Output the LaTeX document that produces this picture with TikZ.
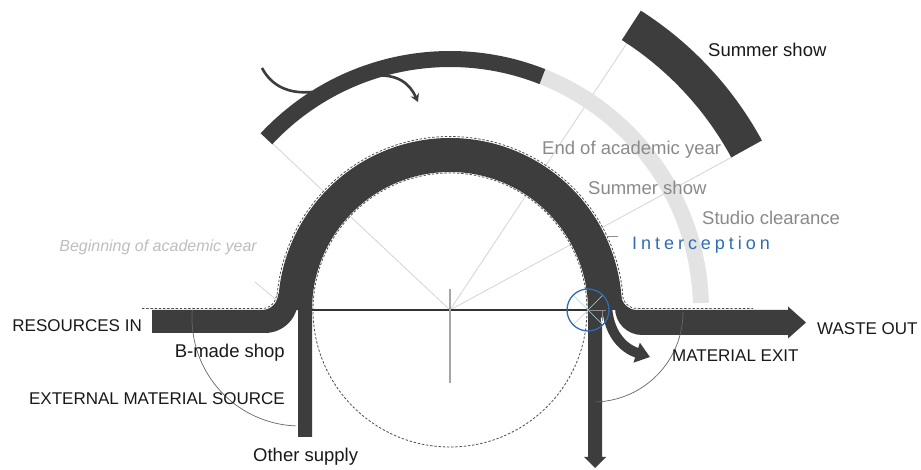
\documentclass[tikz,border=0pt]{standalone}
\usepackage{fontspec}
\setmainfont{Liberation Sans}
\usetikzlibrary{calc,arrows.meta}
\definecolor{band}{HTML}{3D3D3D}
\definecolor{ringlight}{HTML}{E3E3E3}
\definecolor{radial}{HTML}{D4D4D4}
\definecolor{txtgray}{HTML}{8A8A8A}
\definecolor{txtlight}{HTML}{BEBEBE}
\definecolor{iblue}{HTML}{2F6DB5}
\definecolor{xcyan}{HTML}{A8D8E6}
\begin{document}
\begin{tikzpicture}[x=1pt,y=1pt,
  radialline/.style={draw=radial, line width=0.8pt},
  dashline/.style={draw=black!70, line width=0.8pt, dash pattern=on 2.4pt off 1.8pt},
  thinarc/.style={draw=black!60, line width=0.7pt},
  caplbl/.style={font=\fontsize{17}{20}\selectfont, text=black!90, inner sep=0pt},
  lowlbl/.style={font=\fontsize{18.5}{22}\selectfont, inner sep=0pt},
  flowline/.style={draw=band, line width=2.6pt},
]
\useasboundingbox (0,0) rectangle (921,470);
\fill[white] (0,0) rectangle (921,470);
\coordinate (C) at (450,160);

% radial guide lines
\draw[radialline] (C) -- (272,327);
\draw[radialline] (C) -- (627,427);
\draw[radialline] (C) -- (734,314);
\draw[radialline] (255,188) -- (285,163);

% outer rings
\draw[ringlight, line width=16pt] ($(C)+(68.4:251)$) arc[start angle=68.4, end angle=1.6, radius=251];
\draw[band, line width=16pt] ($(C)+(137:251)$) arc[start angle=137, end angle=68.4, radius=251];
\draw[band, line width=35pt] ($(C)+(57.5:337.5)$) arc[start angle=57.5, end angle=28.5, radius=337.5];

% dashed outlines
\draw[dashline] (C) circle[radius=137];
\draw[dashline] (142,161.5) -- (262,161.5) arc[start angle=270,end angle=360,radius=14.5]
  -- ($(C)+(174.7:173.5)$) arc[start angle=174.7,end angle=5.3,radius=173.5]
  -- (622.5,176) arc[start angle=180,end angle=270,radius=14.5] -- (753,161.5);

% main arch
\draw[band, line width=34pt] ($(C)+(180:155)$) arc[start angle=180,end angle=0,radius=155];

% left inflow and vertical supply
\fill[band] (152,160) -- (262,160) arc[start angle=270,end angle=360,radius=16] -- (312,176)
  -- (312,33) -- (298,33) -- (298,170) arc[start angle=0,end angle=-90,radius=33] -- (152,137) -- cycle;

% right waste out
\fill[band] (621,176) arc[start angle=180,end angle=270,radius=16] -- (788,160) -- (788,163.5)
  -- (806,147.5) -- (788,131.5) -- (788,135) -- (642,135) arc[start angle=270,end angle=180,radius=27]
  -- (615,176) -- cycle;

% right vertical down arrow
\fill[band] (588,176) -- (602,176) -- (602,13) -- (606,13) -- (595,2) -- (584,13) -- (588,13) -- cycle;

% material exit
\draw[white, line width=12.5pt] (607,153) .. controls (608,136) and (622,122) .. (650,113);
\draw[band, line width=10pt, -{Triangle[length=14pt,width=20pt]}] (607,165) .. controls (608,138) and (622,122) .. (650,113);

% axis lines
\draw[black!80, line width=1.3pt] (312,160) -- (588,160);
\draw[black!35, line width=1.2pt] (450,181) -- (450,87);

% thin arcs
\draw[thinarc] ($(300,152)+(176:108)$) arc[start angle=176,end angle=268,radius=108];
\draw[thinarc] ($(593,158)+(0:90)$) arc[start angle=0,end angle=-88,radius=90];

% interception marker
\draw[xcyan, line width=0.6pt] ($(588,160)+(45:21)$) -- ($(588,160)+(225:21)$);
\draw[xcyan, line width=0.6pt] ($(588,160)+(135:21)$) -- ($(588,160)+(315:21)$);
\draw[black!45, line width=0.7pt] (588,160) -- (606,160);
\draw[black!45, line width=0.7pt] (602,158) -- (602,149);
\draw[iblue, line width=1.3pt] (588,160) circle[radius=21];
\draw[black!45, line width=0.9pt] (607,234) -- (618,234);

% small flows on upper ring
\draw[flowline] (262,402) .. controls (272,383) and (290,376) .. (312,378);
\draw[flowline, -{Stealth[length=8pt,width=9pt]}] (372,394) .. controls (398,397) and (410,386) .. (418,368);

% labels
\node[lowlbl, text=black!90, anchor=base west] (sumtop) at (708,413) {Summer show};
\node[lowlbl, text=txtgray, anchor=base west] (endyear) at (542,315) {End of academic year};
\node[lowlbl, text=txtgray, anchor=base west] (sumgray) at (588,275) {Summer show};
\node[lowlbl, text=txtgray, anchor=base west] (studio) at (702,245) {Studio clearance};
\node[inner sep=0pt, text=iblue, anchor=base west, font=\fontsize{18}{22}\selectfont\addfontfeatures{LetterSpace=22}] (intercept) at (632,220) {Interception};
\node[inner sep=0pt, text=txtlight, anchor=base east, font=\fontsize{16}{19}\selectfont\itshape] (beginyear) at (257,218) {Beginning of academic year};
\node[caplbl, anchor=base east] (resin) at (142,138) {RESOURCES IN};
\node[lowlbl, text=black!90, anchor=base east] (bmade) at (285,112) {B-made shop};
\node[caplbl, anchor=base east] (extsrc) at (285,65) {EXTERNAL MATERIAL SOURCE};
\node[lowlbl, text=black!90, anchor=base west] (other) at (253,8) {Other supply};
\node[caplbl, anchor=base west] (waste) at (817,135) {WASTE OUT};
\node[caplbl, anchor=base west] (matexit) at (672,108) {MATERIAL EXIT};
\end{tikzpicture}
\end{document}
